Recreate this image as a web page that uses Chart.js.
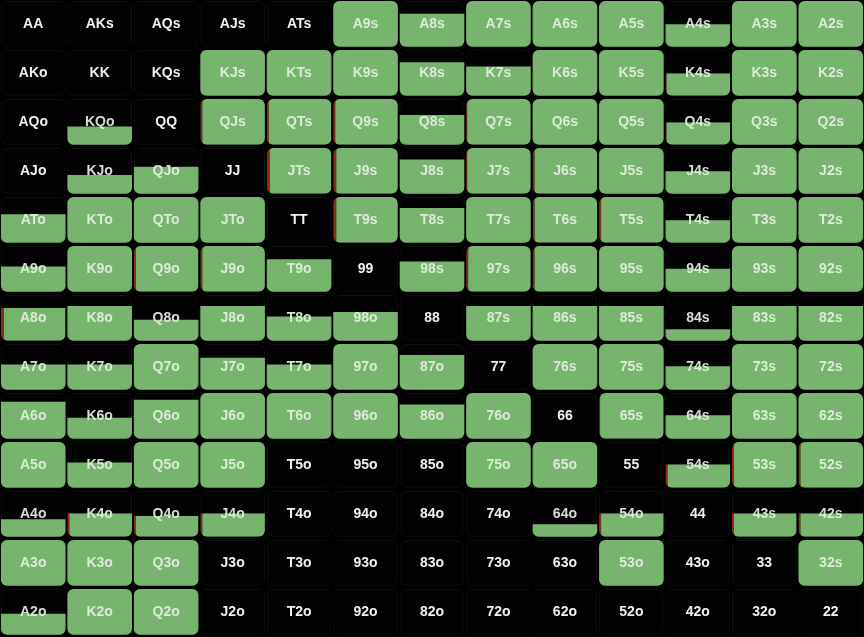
<!DOCTYPE html>
<html>
<head>
<meta charset="utf-8">
<script src="https://cdn.jsdelivr.net/npm/chart.js@4.4.1/dist/chart.umd.min.js"></script>
<style>
html,body{margin:0;padding:0;background:#000;overflow:hidden;}
#wrap{width:864px;height:637px;position:relative;}
</style>
</head>
<body>
<div id="wrap"><canvas id="c"></canvas></div>
<script>
// Ranks (row / column tick labels)
const RANKS = ['A','K','Q','J','T','9','8','7','6','5','4','3','2'];

// Frequency (0..1) of the main (green) action for each cell, per row
const FILL_A = [0,0,0,0,0,1,0.72,1,1,1,0.49,1,1];
const FILL_K = [0,0,0,1,1,1,0.73,0.64,1,1,0.49,1,1];
const FILL_Q = [0,0.40,0,1,1,1,0.65,1,1,1,0.49,1,1];
const FILL_J = [0,0.41,0.59,0,1,1,0.75,1,1,1,0.49,1,1];
const FILL_T = [0.62,1,1,1,0,1,0.76,1,1,1,0.49,1,1];
const FILL_9 = [0.55,1,1,1,0.71,0,0.66,1,1,1,0.50,1,1];
const FILL_8 = [0.72,0.76,0.46,0.76,0.53,0.63,0,0.76,0.76,0.76,0.25,0.76,0.76];
const FILL_7 = [0.55,0.55,1,0.70,0.55,1,0.76,0,1,1,0.51,1,1];
const FILL_6 = [0.81,0.46,0.85,1,1,1,0.75,1,0,1,0.51,1,1];
const FILL_5 = [1,0.55,1,1,0,0,0,1,1,0,0.51,1,1];
const FILL_4 = [0.38,0.51,0.46,0.51,0,0,0,0,0.27,0.51,0,0.51,0.51];
const FILL_3 = [1,1,1,0,0,0,0,0,0,1,0,0,1];
const FILL_2 = [0.46,1,1,0,0,0,0,0,0,0,0,0,0];
const FILL = [FILL_A,FILL_K,FILL_Q,FILL_J,FILL_T,FILL_9,FILL_8,FILL_7,FILL_6,FILL_5,FILL_4,FILL_3,FILL_2];

// Small secondary (red) action share, shown as a sliver on the left edge (0 = none, 1..3 = weight)
const MINOR_A = [0,0,0,0,0,0,0,0,0,0,0,0,0];
const MINOR_K = [0,0,0,0,0,0,0,0,0,0,1,0,0];
const MINOR_Q = [0,0,0,2,2,2,0,1,0,0,1,0,0];
const MINOR_J = [0,0,0,0,3,3,0,1,2,0,0,0,0];
const MINOR_T = [0,0,0,0,0,3,0,0,2,2,0,0,0];
const MINOR_9 = [0,0,2,2,0,0,0,2,2,0,0,0,0];
const MINOR_8 = [3,0,0,0,0,0,0,0,0,0,0,0,0];
const MINOR_7 = [0,0,0,0,0,0,0,0,0,0,0,0,0];
const MINOR_6 = [0,0,0,0,0,0,0,0,0,1,0,0,0];
const MINOR_5 = [0,0,0,0,0,0,0,0,0,0,2,2,2];
const MINOR_4 = [0,2,2,2,0,0,0,0,0,2,0,2,2];
const MINOR_3 = [0,0,0,0,0,0,0,0,0,0,0,0,0];
const MINOR_2 = [0,0,0,0,0,0,0,0,0,0,0,0,0];
const MINOR = [MINOR_A,MINOR_K,MINOR_Q,MINOR_J,MINOR_T,MINOR_9,MINOR_8,MINOR_7,MINOR_6,MINOR_5,MINOR_4,MINOR_3,MINOR_2];

const GREEN = '#77b46d';
const RED = '#8a2b14';
const CELL_TOP = 0.02, CELL_BOT = 0.952, CELL_H = CELL_BOT - CELL_TOP;

function handName(r, c) {
  if (r === c) return RANKS[r] + RANKS[c];
  if (r < c) return RANKS[r] + RANKS[c] + 's';
  return RANKS[c] + RANKS[r] + 'o';
}

const datasets = [];
FILL.forEach((row, r) => {
  datasets.push({
    data: row.map(() => [r + CELL_TOP, r + CELL_BOT]),
    backgroundColor: '#020202',
    borderColor: '#111111',
    borderWidth: 1,
    borderRadius: 6,
    borderSkipped: false,
    grouped: false,
    order: 2
  });
  datasets.push({
    data: row.map(f => f > 0 ? [r + CELL_BOT - f * CELL_H, r + CELL_BOT] : null),
    backgroundColor: GREEN,
    borderColor: RED,
    borderWidth: ctx => ({left: MINOR[r][ctx.dataIndex] || 0, top: 0, right: 0, bottom: 0}),
    borderRadius: ctx => row[ctx.dataIndex] >= 0.99 ? 6 : {topLeft: 0, topRight: 0, bottomLeft: 6, bottomRight: 6},
    borderSkipped: false,
    grouped: false,
    order: 1
  });
});

const labelPlugin = {
  id: 'cellLabels',
  afterDatasetsDraw(chart) {
    const {ctx, scales: {x, y}} = chart;
    ctx.save();
    ctx.textAlign = 'center';
    ctx.textBaseline = 'middle';
    ctx.font = 'bold 14px "Liberation Sans", Arial, sans-serif';
    for (let r = 0; r < RANKS.length; r++) {
      for (let c = 0; c < RANKS.length; c++) {
        const f = FILL[r][c];
        ctx.fillStyle = f > 0 ? 'rgba(228,238,226,0.93)' : '#f0f0f0';
        ctx.fillText(handName(r, c), x.getPixelForValue(c), y.getPixelForValue(r + 0.49));
      }
    }
    ctx.restore();
  }
};

new Chart(document.getElementById('c'), {
  type: 'bar',
  data: {labels: RANKS, datasets},
  options: {
    responsive: true,
    maintainAspectRatio: false,
    animation: false,
    events: [],
    layout: {padding: 0},
    categoryPercentage: 1,
    barPercentage: 0.972,
    plugins: {legend: {display: false}, tooltip: {enabled: false}},
    scales: {
      x: {type: 'category', display: false, offset: true},
      y: {type: 'linear', min: 0, max: 13, reverse: true, display: false}
    }
  },
  plugins: [labelPlugin]
});
</script>
</body>
</html>
